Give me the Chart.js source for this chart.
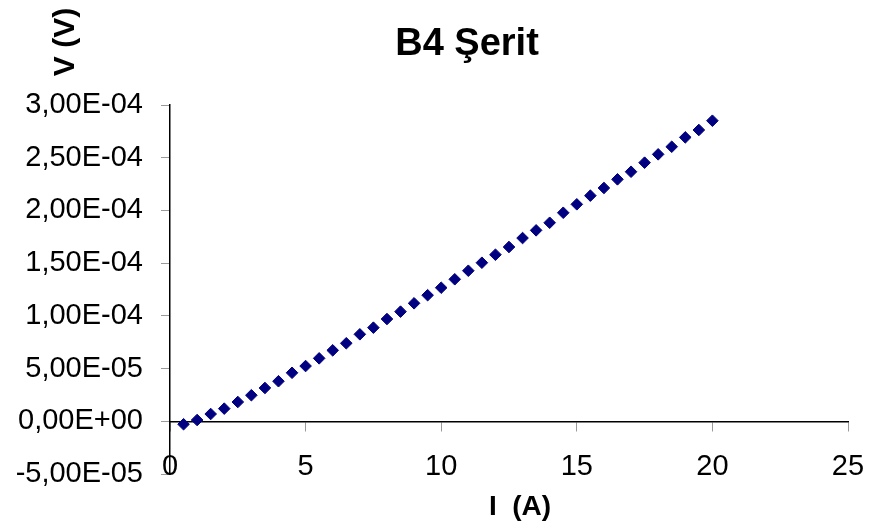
<!DOCTYPE html>
<html>
<head>
<meta charset="utf-8">
<title>B4 Şerit</title>
<script src="https://cdn.jsdelivr.net/npm/chart.js@4.4.1/dist/chart.umd.min.js"></script>
<style>
  html, body { margin: 0; padding: 0; background: #fff; }
</style>
</head>
<body>
<canvas id="chart" width="869" height="529"></canvas>
<script>
/* ======================
   DATA
====================== */
const chartTitle = "B4 Şerit";
const xTitle = "I  (A)";
const yTitle = "V (V)";

// current, A
const currentA = [
  0.5, 1, 1.5, 2, 2.5, 3, 3.5, 4, 4.5, 5,
  5.5, 6, 6.5, 7, 7.5, 8, 8.5, 9, 9.5, 10,
  10.5, 11, 11.5, 12, 12.5, 13, 13.5, 14, 14.5, 15,
  15.5, 16, 16.5, 17, 17.5, 18, 18.5, 19, 19.5, 20
];

// voltage, V
const voltageV = [
  -2.8e-6, 1.2e-6, 6.9e-6, 12.0e-6, 18.3e-6, 24.7e-6, 31.6e-6, 38.0e-6, 46.0e-6, 52.4e-6,
  59.7e-6, 67.3e-6, 74.0e-6, 82.5e-6, 88.8e-6, 97.0e-6, 104.0e-6, 111.9e-6, 119.6e-6, 126.7e-6,
  134.7e-6, 142.8e-6, 150.4e-6, 158.0e-6, 165.3e-6, 173.8e-6, 181.1e-6, 188.3e-6, 197.8e-6, 205.8e-6,
  214.0e-6, 221.3e-6, 229.5e-6, 236.7e-6, 245.3e-6, 253.2e-6, 260.4e-6, 269.3e-6, 276.3e-6, 285.1e-6
];

const xTicks = [0, 5, 10, 15, 20, 25];
const yTicks = [-5e-5, 0, 5e-5, 1e-4, 1.5e-4, 2e-4, 2.5e-4, 3e-4];

/* ======================
   HELPERS
====================== */
// 0.00015 -> "1,50E-04"
function excelSci(v) {
  const parts = Number(v).toExponential(2).split("e");
  const mant = parts[0].replace(".", ",");
  let exp = parseInt(parts[1], 10);
  const sign = exp < 0 ? "-" : "+";
  exp = Math.abs(exp);
  return mant + "E" + sign + (exp < 10 ? "0" + exp : exp);
}

const FONT = "'Liberation Sans', Arial, sans-serif";

// titles placed like the spreadsheet chart
const textLabels = {
  id: "textLabels",
  afterDraw(chart) {
    const ctx = chart.ctx;
    ctx.save();
    ctx.fillStyle = "#000";
    ctx.textAlign = "center";
    ctx.textBaseline = "alphabetic";

    ctx.font = "bold 38px " + FONT;
    ctx.fillText(chartTitle, 467, 55);

    ctx.font = "bold 28px " + FONT;
    ctx.fillText(xTitle, 520, 515);

    ctx.translate(74, 42);
    ctx.rotate(-Math.PI / 2);
    ctx.font = "bold 30px " + FONT;
    ctx.fillText(yTitle, 0, 0);
    ctx.restore();
  }
};

/* ======================
   CHART
====================== */
const points = currentA.map((x, i) => ({ x: x, y: voltageV[i] }));

new Chart(document.getElementById("chart"), {
  type: "scatter",
  data: {
    datasets: [{
      data: points,
      pointStyle: "rectRot",
      pointRadius: 5.8,
      pointHoverRadius: 5.8,
      backgroundColor: "#000080",
      borderColor: "#000080",
      borderWidth: 1
    }]
  },
  options: {
    responsive: false,
    animation: false,
    devicePixelRatio: 1,
    layout: { padding: { left: 0, right: 21, top: 105, bottom: 55 } },
    plugins: {
      legend: { display: false },
      title: { display: false },
      tooltip: { enabled: false }
    },
    scales: {
      x: {
        type: "linear",
        position: { y: 0 },
        min: 0,
        max: 25,
        afterBuildTicks: s => { s.ticks = xTicks.map(v => ({ value: v })); },
        afterFit: s => { s.paddingLeft = 0; s.paddingRight = 0; },
        border: { display: true, color: "#000", width: 1.5 },
        grid: {
          drawOnChartArea: false,
          drawTicks: true,
          tickLength: 9,
          tickColor: "#9a9a9a",
          lineWidth: 1
        },
        ticks: {
          padding: 19,
          color: "#000",
          font: { family: FONT, size: 29 },
          maxRotation: 0
        }
      },
      y: {
        type: "linear",
        position: "left",
        min: -5e-5,
        max: 3e-4,
        afterBuildTicks: s => { s.ticks = yTicks.map(v => ({ value: v })); },
        afterFit: s => { s.width = 170; },
        border: { display: true, color: "#000", width: 1.5 },
        grid: {
          drawOnChartArea: false,
          drawTicks: true,
          tickLength: 9,
          tickColor: "#9a9a9a",
          lineWidth: 1
        },
        ticks: {
          padding: 18,
          color: "#000",
          font: { family: FONT, size: 29 },
          callback: v => excelSci(v)
        }
      }
    }
  },
  plugins: [textLabels]
});
</script>
</body>
</html>
